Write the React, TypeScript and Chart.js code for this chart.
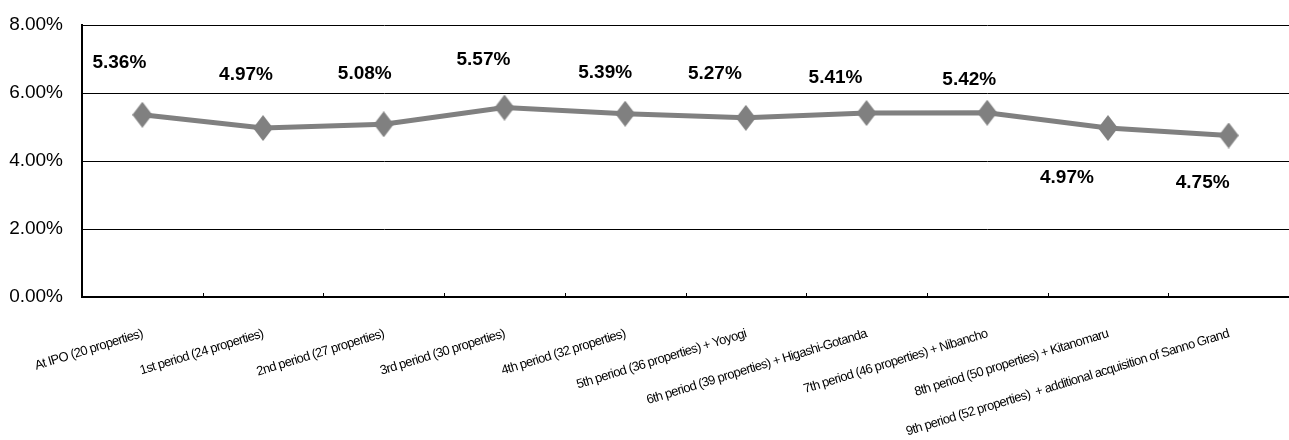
import React, { useEffect, useRef } from "react";
import { Chart, registerables } from "chart.js";

Chart.register(...registerables);

const categories = [
  "At IPO (20 properties)",
  "1st period (24 properties)",
  "2nd period (27 properties)",
  "3rd period (30 properties)",
  "4th period (32 properties)",
  "5th period (36 properties) + Yoyogi",
  "6th period (39 properties) + Higashi-Gotanda",
  "7th period (46 properties) + Nibancho",
  "8th period (50 properties) + Kitanomaru",
  "9th period (52 properties)  + additional acquisition of Sanno Grand",
];

const yieldValues = [5.36, 4.97, 5.08, 5.57, 5.39, 5.27, 5.41, 5.42, 4.97, 4.75];

const yTickValues = [0, 2, 4, 6, 8];

// label placement offsets (px) relative to each point
const labelOffsetX = [-23, -17, -19, -21, -20, -31, -31, -18, -41, -26];
const labelOffsetY = [-52, -53, -51, -48, -41, -44, -35, -33, 50, 47];

const FONT = '"Liberation Sans", Arial, sans-serif';

function makeDiamond(w: number, h: number, color: string) {
  const c = document.createElement("canvas");
  c.width = w;
  c.height = h;
  const g = c.getContext("2d")!;
  g.fillStyle = color;
  g.beginPath();
  g.moveTo(w / 2, 0);
  g.lineTo(w, h / 2);
  g.lineTo(w / 2, h);
  g.lineTo(0, h / 2);
  g.closePath();
  g.fill();
  return c;
}

// condensed x-axis labels (the original uses a narrow face)
const narrowXLabelsPlugin = {
  id: "narrowXLabels",
  beforeDraw(chart: any) {
    const xs = chart.scales.x;
    if (!xs || xs._narrowPatched) return;
    const orig = xs.drawLabels.bind(xs);
    xs.drawLabels = (area: any) => {
      const c = chart.ctx as any;
      const prev = c.letterSpacing;
      c.letterSpacing = "-0.65px";
      orig(area);
      c.letterSpacing = prev || "0px";
    };
    xs._narrowPatched = true;
  },
};

const dataLabelPlugin = {
  id: "dataLabels",
  afterDatasetsDraw(chart: any) {
    const ctx = chart.ctx;
    const meta = chart.getDatasetMeta(0);
    ctx.save();
    ctx.font = `bold 19px ${FONT}`;
    ctx.fillStyle = "#000";
    ctx.textAlign = "center";
    ctx.textBaseline = "middle";
    meta.data.forEach((pt: any, i: number) => {
      ctx.fillText(
        yieldValues[i].toFixed(2) + "%",
        pt.x + labelOffsetX[i],
        pt.y + labelOffsetY[i]
      );
    });
    ctx.restore();
  },
};

const innerTicksPlugin = {
  id: "innerTicks",
  afterDraw(chart: any) {
    const ctx = chart.ctx;
    const xs = chart.scales.x;
    const bottom = chart.chartArea.bottom;
    ctx.save();
    ctx.strokeStyle = "#000";
    ctx.lineWidth = 1;
    for (let i = 1; i < categories.length; i++) {
      const x = Math.round((xs.getPixelForValue(i - 1) + xs.getPixelForValue(i)) / 2) + 0.5;
      ctx.beginPath();
      ctx.moveTo(x, bottom);
      ctx.lineTo(x, bottom - 4);
      ctx.stroke();
    }
    ctx.restore();
  },
};

function zeroPadding(scale: any) {
  scale.paddingLeft = 0;
  scale.paddingRight = 0;
  scale.paddingTop = 0;
  scale.paddingBottom = 0;
}

export default function App() {
  const canvasRef = useRef<HTMLCanvasElement | null>(null);

  useEffect(() => {
    if (!canvasRef.current) return;
    const diamond = makeDiamond(20, 26, "#808080");
    const chart = new Chart(canvasRef.current, {
      type: "line",
      data: {
        labels: categories,
        datasets: [
          {
            data: yieldValues,
            borderColor: "#808080",
            borderWidth: 5,
            backgroundColor: "#808080",
            pointStyle: diamond as any,
            pointRadius: 12,
            pointBorderWidth: 0,
            pointBackgroundColor: "#808080",
            tension: 0,
          },
        ],
      },
      options: {
        animation: false,
        responsive: true,
        maintainAspectRatio: false,
        layout: { autoPadding: false, padding: { top: 25, left: 0, right: 0, bottom: 0 } },
        plugins: {
          legend: { display: false },
          tooltip: { enabled: false },
        },
        scales: {
          x: {
            type: "category",
            offset: true,
            grid: { display: false, drawTicks: false },
            border: { display: true, color: "#000", width: 2 },
            ticks: {
              autoSkip: false,
              minRotation: 17,
              maxRotation: 17,
              padding: 29,
              color: "#000",
              font: { family: FONT, size: 13 },
            },
            afterFit(scale: any) {
              scale.height = 143;
              zeroPadding(scale);
            },
          },
          y: {
            min: 0,
            max: 8,
            afterBuildTicks(scale: any) {
              scale.ticks = yTickValues.map((v) => ({ value: v }));
            },
            grid: { color: "#000", lineWidth: 1, drawTicks: false },
            border: { display: true, color: "#000", width: 2 },
            ticks: {
              padding: 19,
              color: "#000",
              font: { family: FONT, size: 19 },
              callback: (v: any) => Number(v).toFixed(2) + "%",
            },
            afterFit(scale: any) {
              scale.width = 82;
              zeroPadding(scale);
            },
          },
        },
      },
      plugins: [narrowXLabelsPlugin, dataLabelPlugin, innerTicksPlugin],
    });
    return () => chart.destroy();
  }, []);

  return (
    <div style={{ position: "fixed", left: 0, top: 0, width: 1289, height: 440, background: "#fff" }}>
      <canvas ref={canvasRef} />
    </div>
  );
}
